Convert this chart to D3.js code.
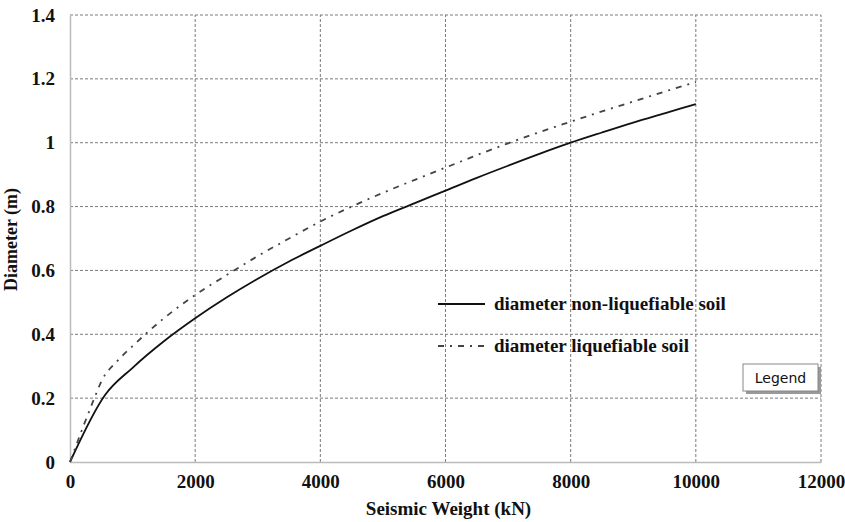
<!DOCTYPE html>
<html>
<head>
<meta charset="utf-8">
<script src="https://cdn.jsdelivr.net/npm/d3@7"></script>
<style>
  body { margin: 0; background: #fff; }
  svg text { font-family: "Liberation Serif", "Times New Roman", serif; font-weight: bold; fill: #111; }
</style>
</head>
<body>
<svg id="chart" width="845" height="522"></svg>
<script>
// seismic weight (kN) and pile diameter (m)
const weightNonLiq = [0, 560, 1000, 1500, 2000, 2500, 3000, 3500, 4000, 4500, 5000, 5500, 6000, 6500, 7000, 7500, 8000, 8500, 9000, 9500, 10000];
const diamNonLiq   = [0, 0.21, 0.295, 0.378, 0.45, 0.515, 0.574, 0.628, 0.677, 0.725, 0.77, 0.81, 0.85, 0.89, 0.928, 0.965, 1.0, 1.032, 1.063, 1.092, 1.121];

const weightLiq = [0, 400, 500, 750, 1000, 1500, 2000, 2500, 3000, 3500, 4000, 4500, 5000, 5500, 6000, 6500, 7000, 7500, 8000, 8500, 9000, 9500, 10000];
const diamLiq   = [0, 0.205, 0.252, 0.315, 0.363, 0.45, 0.523, 0.585, 0.645, 0.70, 0.753, 0.80, 0.843, 0.883, 0.922, 0.961, 0.998, 1.033, 1.066, 1.098, 1.129, 1.16, 1.19];

const xTicks = [0, 2000, 4000, 6000, 8000, 10000, 12000];
const yTicks = [0, 0.2, 0.4, 0.6, 0.8, 1, 1.2, 1.4];

const series = [
  { name: "diameter non-liquefiable soil", xs: weightNonLiq, ys: diamNonLiq, dash: null, color: "#111" },
  { name: "diameter liquefiable soil", xs: weightLiq, ys: diamLiq, dash: "6,6,2,6", color: "#444" }
];

const svg = d3.select("svg#chart");
const margin = { left: 70, top: 15, right: 24, bottom: 60 };
const W = 845, H = 522;

const x = d3.scaleLinear().domain([0, 12000]).range([margin.left, W - margin.right]);
const y = d3.scaleLinear().domain([0, 1.4]).range([H - margin.bottom, margin.top]);

// grid lines
svg.append("g")
  .selectAll("line.vg")
  .data(xTicks.slice(1))
  .join("line")
    .attr("x1", d => x(d)).attr("x2", d => x(d))
    .attr("y1", y(0)).attr("y2", y(1.4))
    .attr("stroke", "#7a7a7a").attr("stroke-width", 1).attr("stroke-dasharray", "3,2");

svg.append("g")
  .selectAll("line.hg")
  .data(yTicks.slice(1))
  .join("line")
    .attr("x1", x(0)).attr("x2", x(12000))
    .attr("y1", d => y(d)).attr("y2", d => y(d))
    .attr("stroke", "#7a7a7a").attr("stroke-width", 1).attr("stroke-dasharray", "3,2");

// axes
const xAxis = svg.append("g")
  .attr("transform", `translate(0,${y(0)})`)
  .call(d3.axisBottom(x).tickValues(xTicks).tickSize(0).tickPadding(13).tickFormat(d3.format("d")));
const yAxis = svg.append("g")
  .attr("transform", `translate(${x(0)},0)`)
  .call(d3.axisLeft(y).tickValues(yTicks).tickSize(0).tickPadding(15).tickFormat(d => d3.format("~g")(d)));

[xAxis, yAxis].forEach(g => {
  g.select(".domain").attr("stroke", "#bbb").attr("stroke-width", 1.5);
  g.selectAll("text").style("font-size", "19px").style("font-family", "'Liberation Serif', serif").attr("fill", "#111");
});

// axis titles
svg.append("text")
  .attr("x", (x(0) + x(12000)) / 2 + 3).attr("y", 515)
  .attr("text-anchor", "middle").style("font-size", "19px")
  .text("Seismic Weight (kN)");

svg.append("text")
  .attr("transform", `translate(17,${(y(0) + y(1.4)) / 2 + 1}) rotate(-90)`)
  .attr("text-anchor", "middle").style("font-size", "18px")
  .text("Diameter (m)");

// curves
const line = d3.line()
  .x(d => x(d[0])).y(d => y(d[1]))
  .curve(d3.curveMonotoneX);

svg.append("g")
  .selectAll("path.series")
  .data(series)
  .join("path")
    .attr("class", "series")
    .attr("d", s => line(d3.zip(s.xs, s.ys)))
    .attr("fill", "none")
    .attr("stroke", s => s.color)
    .attr("stroke-width", 1.8)
    .attr("stroke-dasharray", s => s.dash);

// legend
const legend = svg.append("g").attr("transform", "translate(438,304)");
const item = legend.selectAll("g.item")
  .data(series)
  .join("g")
    .attr("class", "item")
    .attr("transform", (d, i) => `translate(0,${i * 42})`);
item.append("line")
  .attr("x1", 0).attr("x2", 47)
  .attr("stroke", d => d.color).attr("stroke-width", 1.8)
  .attr("stroke-dasharray", d => d.dash);
item.append("text")
  .attr("x", 56).attr("y", 6)
  .style("font-size", "19px")
  .text(d => d.name);

// "Legend" tag box
const tag = svg.append("g").attr("transform", "translate(743,364)");
tag.append("rect").attr("x", 3).attr("y", 3).attr("width", 75).attr("height", 27).attr("fill", "#999");
tag.append("rect").attr("width", 75).attr("height", 27).attr("fill", "#fff").attr("stroke", "#888").attr("stroke-width", 1);
tag.append("text")
  .attr("x", 37.5).attr("y", 19)
  .attr("text-anchor", "middle")
  .style("font-family", "'DejaVu Sans', sans-serif").style("font-weight", "normal").style("font-size", "14px")
  .attr("fill", "#333")
  .text("Legend");
</script>
</body>
</html>
